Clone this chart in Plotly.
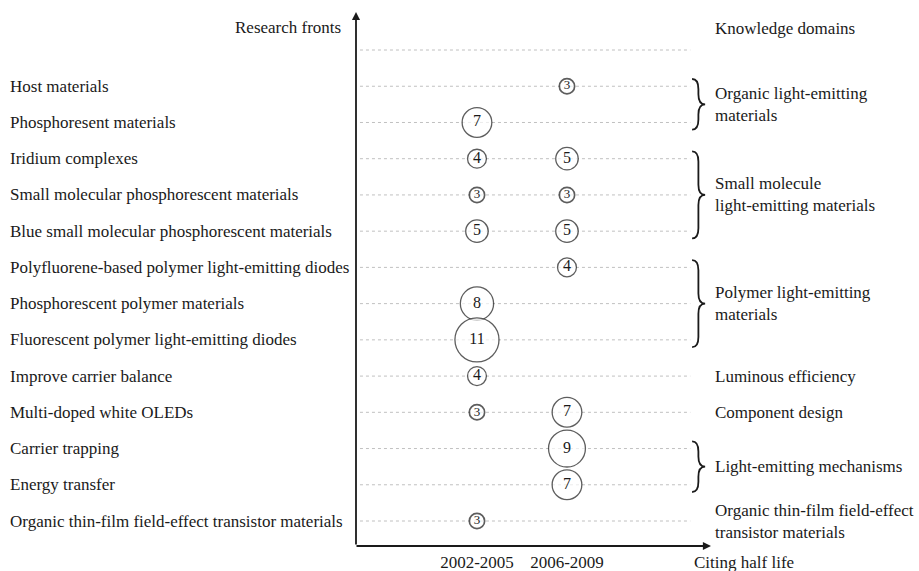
import plotly.graph_objects as go

# ---- data ----
fronts = ["", "Host materials", "Phosphoresent materials", "Iridium complexes",
          "Small molecular phosphorescent materials",
          "Blue small molecular phosphorescent materials",
          "Polyfluorene-based polymer light-emitting diodes",
          "Phosphorescent polymer materials",
          "Fluorescent polymer light-emitting diodes",
          "Improve carrier balance", "Multi-doped white OLEDs",
          "Carrier trapping", "Energy transfer",
          "Organic thin-film field-effect transistor materials"]
periods = ["2002-2005", "2006-2009"]
counts_2002_2005 = [None, None, 7, 4, 3, 5, None, 8, 11, 4, 3, None, None, 3]
counts_2006_2009 = [None, 3, None, 5, 3, 5, 4, None, None, None, 7, 9, 7, None]

domains = ["Organic light-emitting<br>materials",
           "Small molecule<br>light-emitting materials",
           "Polymer light-emitting<br>materials",
           "Luminous efficiency", "Component design",
           "Light-emitting mechanisms",
           "Organic thin-film field-effect<br>transistor materials"]
domain_first_row = [1, 3, 6, 9, 10, 11, 13]
domain_last_row = [2, 5, 8, 9, 10, 12, 13]

FONT = "Liberation Serif, Times New Roman, serif"
INK = "#1a1a1a"
FS = 17

fig = go.Figure()

# dotted guide lines
for i in range(len(fronts)):
    fig.add_shape(type="line", xref="x", yref="y", x0=-1.3, x1=2.37, y0=i, y1=i,
                  line=dict(color="#c0c0c0", width=1, dash="dot"), layer="below")

def add_period(col, counts):
    ys, ns = [], []
    for i, n in enumerate(counts):
        if n is not None:
            ys.append(i)
            ns.append(n)
    fig.add_trace(go.Scatter(
        x=[col] * len(ys), y=ys, mode="markers+text",
        text=[str(n) for n in ns], textposition="middle center",
        textfont=dict(family=FONT, size=[13 if n == 3 else 16 for n in ns], color=INK),
        marker=dict(size=[3.6 * n + 4.5 for n in ns], color="white",
                    line=dict(color=INK, width=[1.7 if n == 3 else 1.3 for n in ns])),
        showlegend=False, hoverinfo="skip", cliponaxis=False))

add_period(0, counts_2002_2005)
add_period(1, counts_2006_2009)

# left labels
for i, name in enumerate(fronts):
    if name:
        fig.add_annotation(xref="paper", yref="y", x=-0.980, y=i, text=name,
                           xanchor="left", yanchor="middle", showarrow=False,
                           font=dict(family=FONT, size=FS, color=INK))

# right domain labels and braces
for name, a, b in zip(domains, domain_first_row, domain_last_row):
    fig.add_annotation(xref="paper", yref="y", x=1.0056, y=(a + b) / 2, text=name,
                       xanchor="left", yanchor="middle", showarrow=False, align="left",
                       font=dict(family=FONT, size=FS, color=INK))
    if b > a:
        y0, y1 = a - 0.2, b + 0.2
        ym = (y0 + y1) / 2
        x0, xc, xn = 2.39, 2.46, 2.535
        h = 0.28
        path = (f"M {x0},{y0} Q {xc},{y0} {xc},{y0 + h} "
                f"L {xc},{ym - h} Q {xc},{ym} {xn},{ym} "
                f"Q {xc},{ym} {xc},{ym + h} "
                f"L {xc},{y1 - h} Q {xc},{y1} {x0},{y1}")
        fig.add_shape(type="path", xref="x", yref="y", path=path,
                      line=dict(color=INK, width=1.8))

# titles
fig.add_annotation(xref="paper", yref="paper", x=-0.037, y=1.0, yshift=-15,
                   text="Research fronts", xanchor="right", yanchor="middle",
                   showarrow=False, font=dict(family=FONT, size=FS, color=INK))
fig.add_annotation(xref="paper", yref="paper", x=1.0056, y=1.0, yshift=-16,
                   text="Knowledge domains", xanchor="left", yanchor="middle",
                   showarrow=False, font=dict(family=FONT, size=FS, color=INK))
fig.add_annotation(xref="paper", yref="paper", x=0.946, y=0, yshift=-16,
                   text="Citing half life", xanchor="left", yanchor="middle",
                   showarrow=False, font=dict(family=FONT, size=FS, color=INK))

# axis arrows
fig.add_annotation(xref="paper", yref="paper", x=0, y=1, ax=0, ay=534,
                   axref="pixel", ayref="pixel", text="", showarrow=True,
                   arrowhead=2, arrowsize=0.9, arrowwidth=1.8, arrowcolor=INK)
fig.add_annotation(xref="paper", yref="paper", x=1, y=0, ax=-356, ay=0,
                   axref="pixel", ayref="pixel", text="", showarrow=True,
                   arrowhead=2, arrowsize=0.9, arrowwidth=1.8, arrowcolor=INK)

fig.update_layout(
    width=919, height=571,
    margin=dict(l=356, r=208, t=12, b=25),
    paper_bgcolor="white", plot_bgcolor="white",
    xaxis=dict(range=[-1.344, 2.6], tickvals=[0, 1], ticktext=periods,
               showgrid=False, zeroline=False, showline=False, ticks="",
               ticklabelstandoff=4, automargin=False,
               tickfont=dict(family=FONT, size=FS, color=INK), fixedrange=True),
    yaxis=dict(range=[13.69, -1.049], showticklabels=False, showgrid=False,
               zeroline=False, showline=False, ticks="", automargin=False,
               fixedrange=True),
)

fig.write_html("out.html", config={"displayModeBar": False},
               post_script="document.body.style.margin='0';document.body.style.overflow='hidden';")
